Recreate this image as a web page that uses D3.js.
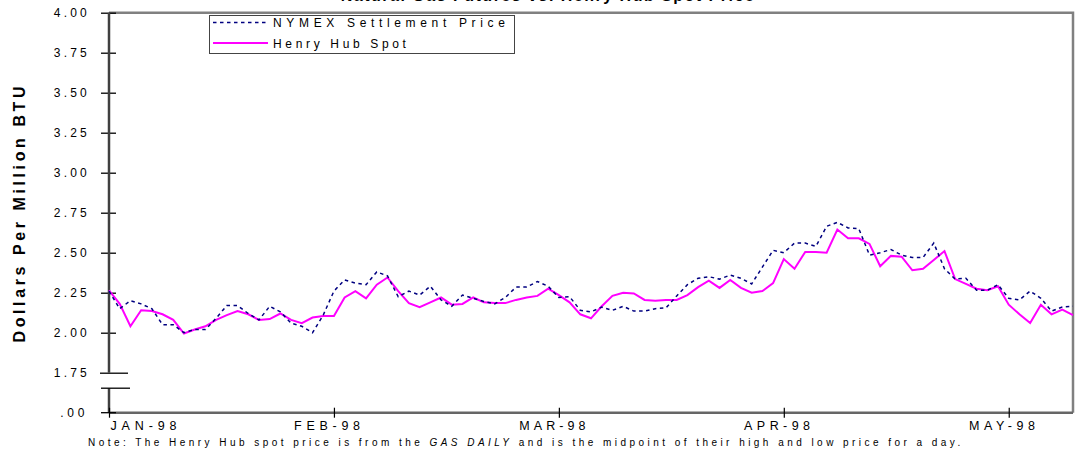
<!DOCTYPE html>
<html>
<head>
<meta charset="utf-8">
<script src="https://cdn.jsdelivr.net/npm/d3@7"></script>
<style>
  html, body { margin: 0; padding: 0; background: #fff; }
  svg { display: block; font-family: "Liberation Sans", Arial, sans-serif; }
</style>
</head>
<body>
<svg id="chart" width="1083" height="453"></svg>
<script>
// trading days, Jan 2 1998 .. mid May 1998
const nymex = [2.26,2.15,2.20,2.18,2.15,2.05,2.05,2.00,2.02,2.02,
    2.09,2.17,2.17,2.12,2.08,2.165,2.13,2.06,2.04,2.00,
    2.11,2.26,2.33,2.31,2.30,2.38,2.355,2.225,2.26,2.235,
    2.29,2.205,2.165,2.235,2.215,2.195,2.18,2.22,2.285,2.285,
    2.32,2.29,2.22,2.225,2.14,2.13,2.16,2.14,2.165,2.135,
    2.135,2.15,2.155,2.23,2.30,2.34,2.35,2.335,2.36,2.34,
    2.305,2.41,2.515,2.50,2.56,2.56,2.54,2.665,2.69,2.655,
    2.65,2.485,2.50,2.52,2.485,2.47,2.47,2.56,2.40,2.335,
    2.34,2.265,2.265,2.30,2.215,2.205,2.26,2.215,2.135,2.16,2.165];
const henryHub = [2.265,2.18,2.04,2.14,2.135,2.115,2.08,1.995,2.02,2.04,
    2.08,2.11,2.135,2.115,2.08,2.085,2.12,2.08,2.06,2.095,
    2.105,2.105,2.22,2.26,2.215,2.30,2.345,2.26,2.185,2.16,
    2.19,2.22,2.175,2.18,2.22,2.19,2.185,2.185,2.205,2.22,
    2.23,2.275,2.235,2.19,2.115,2.09,2.165,2.23,2.25,2.245,
    2.205,2.20,2.205,2.205,2.235,2.285,2.325,2.28,2.33,2.28,
    2.25,2.26,2.31,2.46,2.40,2.505,2.505,2.50,2.645,2.59,
    2.59,2.555,2.415,2.48,2.475,2.39,2.40,2.455,2.51,2.335,
    2.305,2.275,2.265,2.29,2.175,2.115,2.06,2.175,2.115,2.145,2.11];
const monthTickIdx = [0, 21, 42, 63, 84];
const monthLabels = ["JAN-98", "FEB-98", "MAR-98", "APR-98", "MAY-98"];
const yTicks = [4.00, 3.75, 3.50, 3.25, 3.00, 2.75, 2.50, 2.25, 2.00, 1.75];
const seriesNames = ["NYMEX Settlement Price", "Henry Hub Spot"];

const svg = d3.select("#chart");
const plotLeft = 109, plotRight = 1073, plotTop = 12.7, plotBase = 372.7;
const breakGap = 40; // broken axis: zero sits one step under 1.75

const x = d3.scaleLinear().domain([0, nymex.length - 1]).range([plotLeft, plotRight]);
const y = d3.scaleLinear().domain([1.75, 4]).range([plotBase, plotTop]);
const plotBottom = y(1.75) + breakGap;

// spread letters so a text fills a given width
function spreadTo(sel, w) {
    sel.attr("letter-spacing", 0);
    const n = sel.text().length;
    const L = sel.node().getComputedTextLength();
    sel.attr("letter-spacing", ((w - L) / (n - 1)).toFixed(2));
}

// title, mostly above the picture
svg.append("text")
    .attr("x", 548).attr("y", 1)
    .attr("text-anchor", "middle")
    .attr("font-size", 16).attr("font-weight", "bold")
    .attr("letter-spacing", 1.5)
    .text("Natural Gas Futures vs. Henry Hub Spot Price");

// frame: top and right in grey
svg.append("path")
    .attr("d", `M${plotLeft},${plotTop}H${plotRight}V${plotBottom}`)
    .attr("fill", "none").attr("stroke", "#808080").attr("stroke-width", 2.5);
svg.append("line")
    .attr("x1", plotLeft).attr("x2", plotRight).attr("y1", plotBottom).attr("y2", plotBottom)
    .attr("stroke", "#666").attr("stroke-width", 2.5);

// y axis
const yAxis = svg.append("g")
    .attr("transform", `translate(${plotLeft},0)`)
    .call(d3.axisLeft(y).tickValues(yTicks).tickFormat(d3.format(".2f"))
        .tickSizeInner(8).tickSizeOuter(0).tickPadding(11));
yAxis.select(".domain").remove();
yAxis.selectAll(".tick line").attr("x1", 7).attr("stroke", "#000").attr("stroke-width", 1.3);
yAxis.selectAll(".tick").filter(d => d === 1.75).select("line").attr("x1", 19).attr("x2", -9);
yAxis.selectAll(".tick text").attr("font-size", 12).attr("fill", "#000")
    .attr("font-family", "Liberation Sans, Arial, sans-serif")
    .each(function () { spreadTo(d3.select(this), 33); });
yAxis.append("line").attr("x1", 0).attr("x2", 0).attr("y1", plotTop).attr("y2", y(1.75))
    .attr("stroke", "#404040").attr("stroke-width", 2.5);
yAxis.append("line").attr("x1", 0).attr("x2", 0).attr("y1", y(1.75) + 15.5).attr("y2", plotBottom)
    .attr("stroke", "#404040").attr("stroke-width", 2.5);
yAxis.append("line").attr("x1", -8).attr("x2", 21).attr("y1", y(1.75) + 15.5).attr("y2", y(1.75) + 15.5)
    .attr("stroke", "#000").attr("stroke-width", 1.3);
yAxis.append("line").attr("x1", -8).attr("x2", 7).attr("y1", plotBottom).attr("y2", plotBottom)
    .attr("stroke", "#000").attr("stroke-width", 1.3);
yAxis.append("text").attr("x", -21).attr("y", plotBottom).attr("dy", "0.32em")
    .attr("text-anchor", "end").attr("font-size", 12).attr("fill", "#000")
    .attr("font-family", "Liberation Sans, Arial, sans-serif")
    .text(".00").call(s => spreadTo(s, 24));

// x axis
const xAxis = svg.append("g")
    .attr("transform", `translate(0,${plotBottom})`)
    .call(d3.axisBottom(x).tickValues(monthTickIdx)
        .tickFormat((d, i) => monthLabels[i])
        .tickSizeInner(5).tickSizeOuter(0).tickPadding(3));
xAxis.select(".domain").remove();
xAxis.selectAll(".tick line").attr("y1", -5).attr("stroke", "#000").attr("stroke-width", 1.2);
xAxis.selectAll(".tick text").attr("font-size", 12.5).attr("fill", "#000")
    .attr("font-family", "Liberation Sans, Arial, sans-serif")
    .attr("dx", -5)
    .each(function () { spreadTo(d3.select(this), 66); });
xAxis.selectAll(".tick").filter(d => d === 0).select("text")
    .attr("text-anchor", "start").attr("dx", 1);

// axis title
svg.append("text")
    .attr("transform", `translate(25,${(plotTop + plotBottom) / 2}) rotate(-90)`)
    .attr("text-anchor", "middle")
    .attr("font-size", 16).attr("font-weight", "bold")
    .text("Dollars Per Million BTU")
    .call(s => spreadTo(s, 256));

// lines
const line = d3.line().x((d, i) => x(i)).y(d => y(d));
svg.append("path").datum(henryHub)
    .attr("d", line).attr("fill", "none")
    .attr("stroke", "#ff00ff").attr("stroke-width", 2);
svg.append("path").datum(nymex)
    .attr("d", line).attr("fill", "none")
    .attr("stroke", "#000080").attr("stroke-width", 1.5)
    .attr("stroke-dasharray", "3.5,3.5");

// legend
const lg = svg.append("g");
lg.append("rect").attr("x", 209.5).attr("y", 15.5).attr("width", 305).attr("height", 38)
    .attr("fill", "#fff").attr("stroke", "#444").attr("stroke-width", 1);
const legendRows = [
    { name: seriesNames[0], color: "#000080", dash: "3.5,3.5", w: 1.5, span: 232 },
    { name: seriesNames[1], color: "#ff00ff", dash: null, w: 2, span: 133 }
];
legendRows.forEach((r, i) => {
    const cy = 22.5 + i * 20.5;
    lg.append("line").attr("x1", 213).attr("x2", 268).attr("y1", cy).attr("y2", cy)
        .attr("stroke", r.color).attr("stroke-width", r.w)
        .attr("stroke-dasharray", r.dash);
    lg.append("text").attr("x", 273).attr("y", cy + 4.5)
        .attr("font-size", 12)
        .text(r.name)
        .call(s => spreadTo(s, r.span));
});

// footnote
const note = svg.append("text").attr("x", 88).attr("y", 446).attr("font-size", 10);
note.append("tspan").text("Note: The Henry Hub spot price is from the ");
note.append("tspan").attr("font-style", "italic").text("GAS DAILY");
note.append("tspan").text(" and is the midpoint of their high and low price for a day.");
(function () {
    note.attr("letter-spacing", 0);
    const n = note.text().length;
    const L = note.node().getComputedTextLength();
    note.attr("letter-spacing", ((872 - L) / (n - 1)).toFixed(2));
})();
</script>
</body>
</html>
